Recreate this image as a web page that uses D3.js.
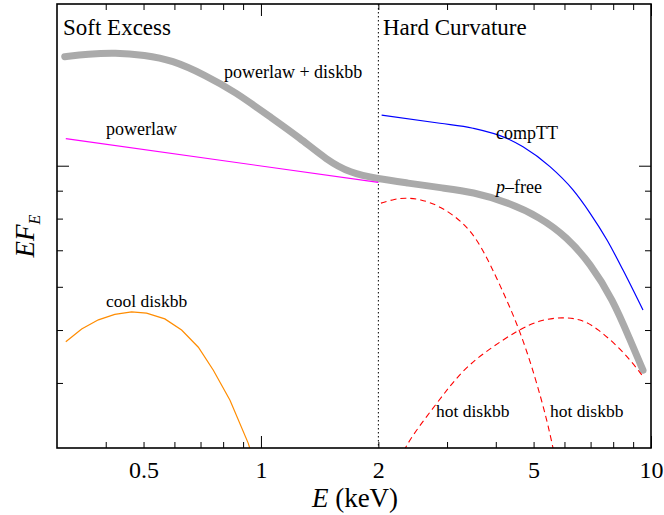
<!DOCTYPE html>
<html lang="en">
<head>
<meta charset="UTF-8">
<title>Soft excess and hard curvature</title>
<style>
  body { margin: 0; background: #fff; }
  text { font-family: "Liberation Serif", "Times New Roman", serif; fill: #000; }
</style>
</head>
<body>
<script src="https://cdn.jsdelivr.net/npm/d3@7"></script>
<script>
// energies in keV, EF_E in arbitrary units
var totalE = [0.314, 0.360, 0.422, 0.504, 0.591, 0.719, 0.858, 1.055, 1.259, 1.476, 1.691, 1.995, 2.368, 2.929, 3.496, 4.273, 5.193, 6.089, 6.976, 7.991, 8.834, 9.539];
var totalF = [1.584, 1.602, 1.612, 1.595, 1.562, 1.466, 1.366, 1.229, 1.124, 1.024, 0.970, 0.946, 0.930, 0.910, 0.895, 0.858, 0.805, 0.740, 0.663, 0.568, 0.480, 0.422];

var powE = [0.316, 2.0];
var powF = [1.121, 0.932];

var compE = [2.039, 2.877, 3.496, 4.273, 4.697, 5.508, 6.310, 6.976, 7.713, 8.477, 9.539];
var compF = [1.238, 1.196, 1.171, 1.122, 1.083, 0.996, 0.903, 0.819, 0.731, 0.644, 0.544];

var coolE = [0.316, 0.347, 0.383, 0.422, 0.466, 0.509, 0.567, 0.626, 0.691, 0.755, 0.833, 0.928, 0.965];
var coolF = [0.476, 0.502, 0.522, 0.534, 0.540, 0.537, 0.524, 0.500, 0.465, 0.422, 0.372, 0.310, 0.283];

var hot1E = [2.031, 2.206, 2.340, 2.557, 2.877, 3.296, 3.643, 4.101, 4.615, 5.073, 5.411, 5.607, 5.774];
var hot1F = [0.854, 0.869, 0.873, 0.869, 0.844, 0.789, 0.722, 0.605, 0.500, 0.405, 0.342, 0.304, 0.277];

var hot2E = [2.245, 2.308, 2.822, 3.277, 3.821, 4.560, 5.193, 5.948, 6.575, 7.271, 8.577, 9.539];
var hot2F = [0.277, 0.304, 0.367, 0.422, 0.460, 0.500, 0.522, 0.528, 0.524, 0.505, 0.454, 0.411];

var xMajor = [1, 10];
var xMinor = [0.4, 0.5, 0.6, 0.7, 0.8, 0.9, 2, 3, 4, 5, 6, 7, 8, 9];
var xLabels = [0.5, 1, 2, 5, 10];
var yMajor = [1];
var yMinor = [0.4, 0.5, 0.6, 0.7, 0.8, 0.9];
var split = 2;

var W = 664, H = 515;
var margin = {top: 4, right: 13, bottom: 67, left: 57};
var w = W - margin.left - margin.right,
    h = H - margin.top - margin.bottom;

var svg = d3.select("body").append("svg")
  .attr("width", W)
  .attr("height", H);

var chart = svg.append("g")
  .attr("transform", "translate(" + margin.left + "," + margin.top + ")");

var x = d3.scaleLog().domain([0.3, 10]).range([0, w]);
var y = d3.scaleLog().domain([0.304, 1.978]).range([h, 0]);

chart.append("clipPath").attr("id", "clip")
  .append("rect").attr("width", w).attr("height", h);

var plot = chart.append("g").attr("clip-path", "url(#clip)");

function pts(es, fs) {
  return es.map(function(e, i) { return [e, fs[i]]; });
}

var smooth = d3.line()
  .x(function(d) { return x(d[0]); })
  .y(function(d) { return y(d[1]); })
  .curve(d3.curveBasis);

var through = d3.line()
  .x(function(d) { return x(d[0]); })
  .y(function(d) { return y(d[1]); })
  .curve(d3.curveMonotoneX);

var straight = d3.line()
  .x(function(d) { return x(d[0]); })
  .y(function(d) { return y(d[1]); });

// dotted divider at 2 keV
plot.append("line")
  .attr("x1", x(split)).attr("x2", x(split))
  .attr("y1", 0).attr("y2", h)
  .attr("stroke", "#000")
  .attr("stroke-width", 1)
  .attr("stroke-dasharray", "1.5,2.5");

// total model (thick grey)
plot.append("path")
  .attr("d", smooth(pts(totalE, totalF)))
  .attr("fill", "none")
  .attr("stroke", "#aaaaaa")
  .attr("stroke-width", 7)
  .attr("stroke-linecap", "round");

plot.append("path")
  .attr("d", straight(pts(powE, powF)))
  .attr("fill", "none")
  .attr("stroke", "#ff00ff")
  .attr("stroke-width", 1.2);

plot.append("path")
  .attr("d", through(pts(compE, compF)))
  .attr("fill", "none")
  .attr("stroke", "#0000ff")
  .attr("stroke-width", 1.2);

plot.append("path")
  .attr("d", straight(pts(coolE, coolF)))
  .attr("fill", "none")
  .attr("stroke", "#ff8c00")
  .attr("stroke-width", 1.2);

[[hot1E, hot1F], [hot2E, hot2F]].forEach(function(c) {
  plot.append("path")
    .attr("d", smooth(pts(c[0], c[1])))
    .attr("fill", "none")
    .attr("stroke", "#ff0000")
    .attr("stroke-width", 1.1)
    .attr("stroke-dasharray", "6,4");
});

// ticks on all four sides, pointing inward
function ticks(axis, vals, len, tr) {
  var g = chart.append("g")
    .attr("transform", tr)
    .call(axis.tickValues(vals).tickSize(-len).tickFormat(""));
  g.select(".domain").remove();
  g.selectAll("line").attr("stroke", "#000").attr("stroke-width", 1);
}
ticks(d3.axisBottom(x), xMinor, 6, "translate(0," + h + ")");
ticks(d3.axisBottom(x), xMajor, 12, "translate(0," + h + ")");
ticks(d3.axisTop(x), xMinor, 6, "translate(0,0)");
ticks(d3.axisTop(x), xMajor, 12, "translate(0,0)");
ticks(d3.axisLeft(y), yMinor, 6, "translate(0,0)");
ticks(d3.axisLeft(y), yMajor, 12, "translate(0,0)");
ticks(d3.axisRight(y), yMinor, 6, "translate(" + w + ",0)");
ticks(d3.axisRight(y), yMajor, 12, "translate(" + w + ",0)");

// tick labels
var xl = chart.append("g")
  .attr("transform", "translate(0," + h + ")")
  .call(d3.axisBottom(x).tickValues(xLabels).tickSize(0).tickPadding(13)
    .tickFormat(function(d) { return String(d); }));
xl.select(".domain").remove();
xl.selectAll("text")
  .attr("font-family", "Liberation Serif")
  .attr("font-size", 24)
  .attr("fill", "#000");

// frame
chart.append("rect")
  .attr("width", w).attr("height", h)
  .attr("fill", "none")
  .attr("stroke", "#000")
  .attr("stroke-width", 1.6);

// axis titles
var xt = svg.append("text")
  .attr("x", 355).attr("y", 507)
  .attr("text-anchor", "middle")
  .attr("font-size", 27);
xt.append("tspan").attr("font-style", "italic").text("E");
xt.append("tspan").text(" (keV)");

var yt = svg.append("text")
  .attr("transform", "translate(34,236) rotate(-90)")
  .attr("text-anchor", "middle")
  .attr("font-size", 27);
yt.append("tspan").attr("font-style", "italic").text("EF");
yt.append("tspan").attr("font-style", "italic").attr("font-size", 16).attr("dy", 6).text("E");

// annotations
function note(tx, ty, size, txt) {
  return svg.append("text").attr("x", tx).attr("y", ty).attr("font-size", size).text(txt);
}
note(63, 35, 23, "Soft Excess");
note(383, 35, 23, "Hard Curvature");
note(224, 78, 18, "powerlaw + diskbb");
note(106, 135, 18, "powerlaw");
note(496, 139, 18, "compTT");
note(106, 307, 17.5, "cool diskbb");
note(436, 417, 17.5, "hot diskbb");
note(550, 417, 17.5, "hot diskbb");
var pf = svg.append("text").attr("x", 496).attr("y", 193).attr("font-size", 18);
pf.append("tspan").attr("font-style", "italic").text("p");
pf.append("tspan").text("\u2013free");
</script>
</body>
</html>
